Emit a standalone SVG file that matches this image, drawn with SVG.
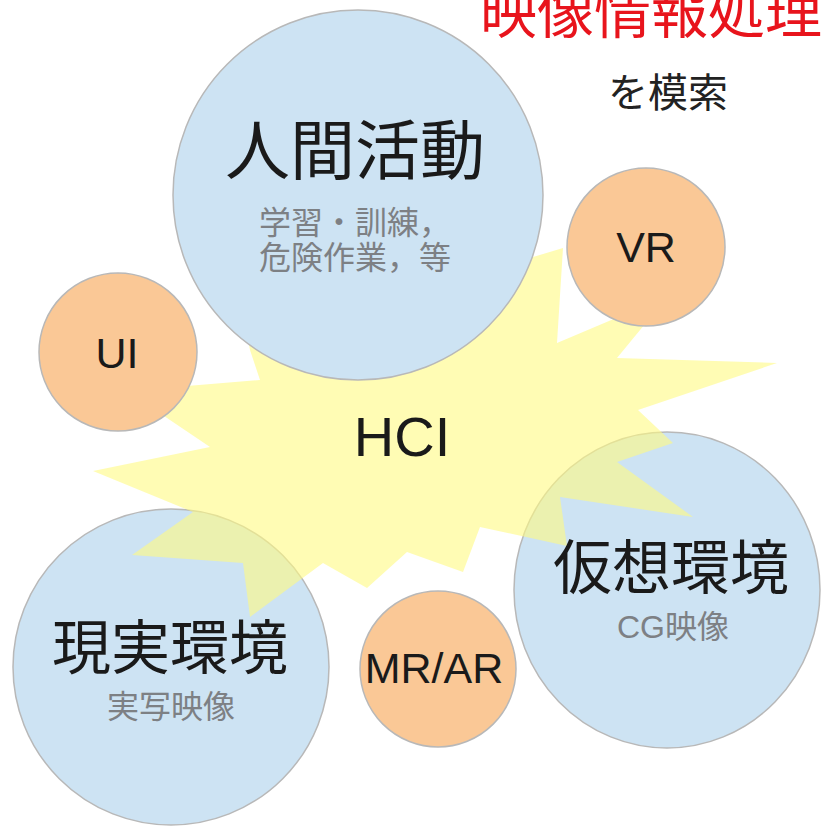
<svg xmlns="http://www.w3.org/2000/svg" width="821" height="826" viewBox="0 0 821 826">
<style>
.blue{fill:#cde3f3;stroke:#b8b8b8;stroke-width:1.5}
.orange{fill:#fac896;stroke:#b8b8b8;stroke-width:1.5}
.star{fill:#fffa82;fill-opacity:0.6;stroke:none}
.lat{font-family:"Liberation Sans","Noto Sans CJK JP",Arial,sans-serif;fill:#1a1a1a;text-anchor:middle}
.jp{font-family:"Noto Sans CJK JP","Liberation Sans",sans-serif;fill:#1a1a1a;text-anchor:middle}
.sub{font-family:"Liberation Sans","Noto Sans CJK JP",sans-serif;fill:#7d8084;text-anchor:middle}
</style>
<rect width="821" height="826" fill="#ffffff"/>
<g id="real-env">
<circle class="blue" cx="171" cy="667" r="158"/>
</g>
<g id="virtual-env">
<ellipse class="blue" cx="667" cy="590" rx="153" ry="158"/>
</g>
<g id="hci">
<polygon class="star" points="563,248 557,343 668,296 617,358 777,363 638,410 673,443 617,462 693,517 560,497 567,546 480,527 463,572 407,552 367,588 323,563 250,617 243,563 132,555 193,512 93,471 210,447 127,391 260,380 250,350 240,300 380,330 490,270"/>
<text class="lat" x="402" y="456" font-size="56">HCI</text>
</g>
<g id="human-activity">
<circle class="blue" cx="358" cy="195" r="185"/>
<text class="jp" x="355" y="174" font-size="65">人間活動</text>
<text class="sub" x="355" y="234" font-size="32">学習・訓練，</text>
<text class="sub" x="355" y="269" font-size="32">危険作業，等</text>
</g>
<g id="ui">
<circle class="orange" cx="118" cy="352" r="79"/>
<text class="lat" x="117" y="368" font-size="43">UI</text>
</g>
<g id="vr">
<circle class="orange" cx="646" cy="247" r="79"/>
<text class="lat" x="646" y="262" font-size="43">VR</text>
</g>
<g id="mr-ar">
<circle class="orange" cx="438" cy="669" r="78"/>
<text class="lat" x="434" y="683" font-size="43">MR/AR</text>
</g>
<g id="real-env-labels">
<text class="jp" x="170" y="669" font-size="59">現実環境</text>
<text class="sub" x="171" y="718" font-size="32">実写映像</text>
</g>
<g id="virtual-env-labels">
<text class="jp" x="671" y="589" font-size="59">仮想環境</text>
<text class="sub" x="673" y="638" font-size="32">CG映像</text>
</g>
<g id="title">
<text x="480" y="33" font-size="57" fill="#e8141c" font-family="Noto Sans CJK JP,sans-serif">映像情報処理</text>
<text x="668" y="107" font-size="40" fill="#222222" text-anchor="middle" font-family="Noto Sans CJK JP,sans-serif">を模索</text>
</g>
<g id="connectors"></g>
</svg>
